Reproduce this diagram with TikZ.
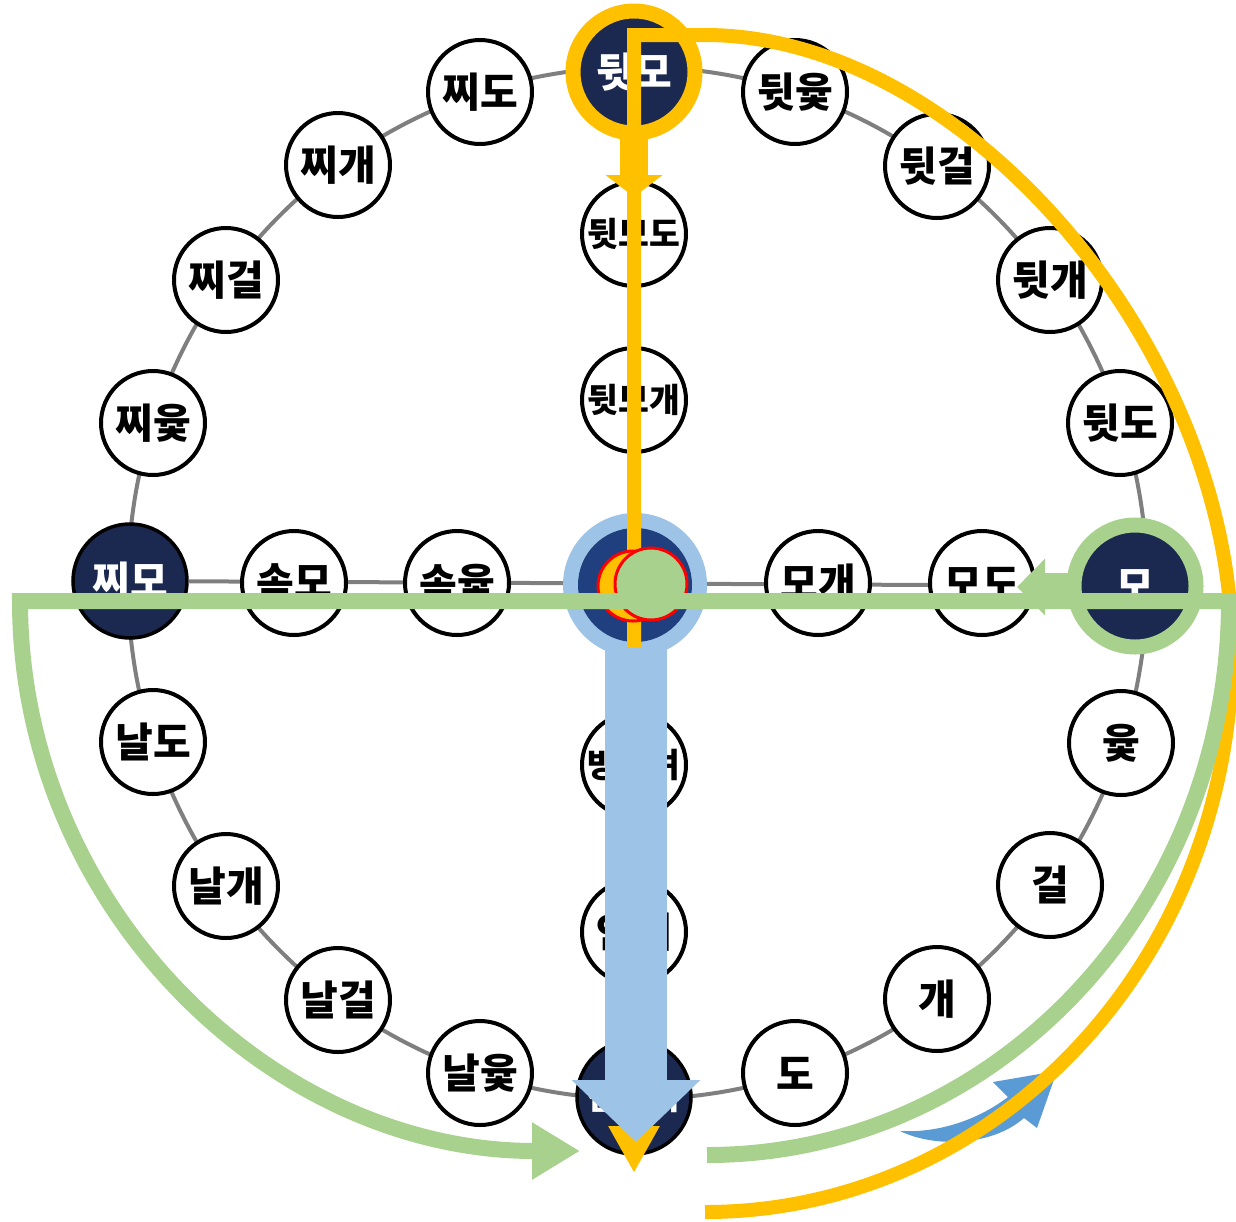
\documentclass[tikz,border=0pt]{standalone}
\usepackage{fontspec}
\newfontfamily\krfont{Noto Sans CJK KR}
\usetikzlibrary{arrows.meta}
\definecolor{trackgray}{HTML}{7F7F7F}
\definecolor{cornernavy}{HTML}{1B2850}
\definecolor{hubnavy}{HTML}{203F7E}
\definecolor{gold}{HTML}{FFC000}
\definecolor{leaf}{HTML}{A9D18E}
\definecolor{sky}{HTML}{9DC3E6}
\definecolor{steel}{HTML}{5B9BD5}
\begin{document}
\begin{tikzpicture}[x=1pt,y=-1pt,
  spot/.style={circle,draw=black,line width=4pt,fill=white,minimum size=104pt,inner sep=0pt,
    font=\krfont\bfseries\fontsize{41}{41}\selectfont},
  spotsmall/.style={spot,font=\krfont\bfseries\fontsize{33.5}{33.5}\selectfont},
  cornerspot/.style={spot,line width=3.5pt,fill=cornernavy,minimum size=114pt,text=white},
  cornersmall/.style={cornerspot,font=\krfont\bfseries\fontsize{33.5}{33.5}\selectfont},
  track/.style={draw=trackgray,line width=4pt},
  goldline/.style={draw=gold,line width=14pt},
  leafline/.style={draw=leaf,line width=16pt},
]
\useasboundingbox (0,0) rectangle (1236,1221);

% outer track of the board
\draw[track] (637.5,583) ellipse [x radius=509.5, y radius=516];

% outer stations, clockwise from the top
\node[cornerspot] (dwitmo)   at (634,72)   {뒷모};
\node[spot]       (dwityut)  at (795,92)   {뒷윷};
\node[spot]       (dwitgeol) at (937,166)  {뒷걸};
\node[spot]       (dwitgae)  at (1050,280) {뒷개};
\node[spot]       (dwitdo)   at (1120,423) {뒷도};
\node[cornerspot] (mo)       at (1135,586) {모};
\node[spot]       (yut)      at (1121,743) {윷};
\node[spot]       (geol)     at (1050,885) {걸};
\node[spot]       (gae)      at (937,999)  {개};
\node[spot]       (do)       at (795,1073) {도};
\node[cornersmall] (cham)    at (634,1097) {참먹이};
\node[spot]       (nalyut)   at (480,1073) {날윷};
\node[spot]       (nalgeol)  at (338,1000) {날걸};
\node[spot]       (nalgae)   at (226,886)  {날개};
\node[spot]       (naldo)    at (153,742)  {날도};
\node[cornerspot] (jjimo)    at (130,581)  {찌모};
\node[spot]       (jjiyut)   at (153,423)  {찌윷};
\node[spot]       (jjigeol)  at (226,280)  {찌걸};
\node[spot]       (jjigae)   at (338,165)  {찌개};
\node[spot]       (jjido)    at (480,92)   {찌도};

% cross lines through the centre
\draw[track] (jjimo) -- (mo);
\draw[track] (dwitmo) -- (cham);

% inner stations
\node[spot]      (sokmo)     at (294,583) {속모};
\node[spot]      (sokyut)    at (457,583) {속윷};
\node[spot]      (mogae)     at (818,583) {모개};
\node[spot]      (modo)      at (982,583) {모도};
\node[spotsmall] (dwitmodo)  at (634,234) {뒷모도};
\node[spotsmall] (dwitmogae) at (634,400) {뒷모개};
\node[spotsmall] (bangsa)    at (634,765) {방사려};
\node[spot]      (anjji)     at (634,932) {안찌};

% centre station with its halo
\node[circle,fill=sky,minimum size=144pt,inner sep=0pt] (halo) at (635,585) {};
\node[circle,fill=hubnavy,minimum size=114pt,inner sep=0pt,text=white,
      font=\krfont\bfseries\fontsize{41}{41}\selectfont] (hub) at (635,585) {방};

% small curved arrow near the finish
\coordinate (ctail) at (900,1131);
\fill[steel] (ctail) .. controls (935,1148) and (992,1146) .. (1024,1118)
  -- (1037,1128) -- (1057,1071) -- (993,1082) -- (1008,1097)
  .. controls (975,1122) and (935,1133) .. (ctail) -- cycle;

% gold route
\coordinate (ys) at (705,1212);
\coordinate (yr) at (1232,650);
\coordinate (yt) at (705,35);
\coordinate (yc) at (634,35);
\coordinate (ye) at (634,1173);
\draw[goldline,line join=miter,-{Triangle[length=47pt,width=48pt]}]
  (ys) .. controls (996,1212) and (1232,960) .. (yr)
       .. controls (1232,350) and (966,35) .. (yt) -- (yc) -- (ye);

% big blue arrow from the centre to the finish
\coordinate (bs) at (636,647);
\coordinate (be) at (636,1142);
\draw[sky,line width=62pt,-{Triangle[length=62pt,width=125pt]}] (bs) -- (be);

% gold marker on the top corner
\draw[gold,line width=15pt] (dwitmo.center) circle [radius=61];
\coordinate (ya) at (634,132);
\coordinate (yb) at (634,197);
\draw[gold,line width=28pt,-{Triangle[length=22pt,width=56pt]}] (ya) -- (yb);

% pieces on the centre
\draw[red,line width=3pt,fill=gold] (633,586) circle [radius=35];
\draw[red,line width=3pt,fill=leaf] (651,584) circle [radius=36];

% green route
\coordinate (gs) at (707,1155);
\coordinate (gr) at (1229,601);
\coordinate (gl) at (20,601);
\coordinate (ge) at (580,1151);
\draw[leafline,line join=miter,-{Triangle[length=48pt,width=54pt]}]
  (gs) .. controls (995,1155) and (1229,907) .. (gr) -- (gl)
       .. controls (20,905) and (270,1151) .. (ge);

% green marker on the right corner
\draw[leaf,line width=15pt] (mo.center) circle [radius=61];
\coordinate (ga) at (1075,587);
\coordinate (gb) at (1017,587);
\draw[leaf,line width=28pt,-{Triangle[length=28pt,width=55pt]}] (ga) -- (gb);
\end{tikzpicture}
\end{document}
